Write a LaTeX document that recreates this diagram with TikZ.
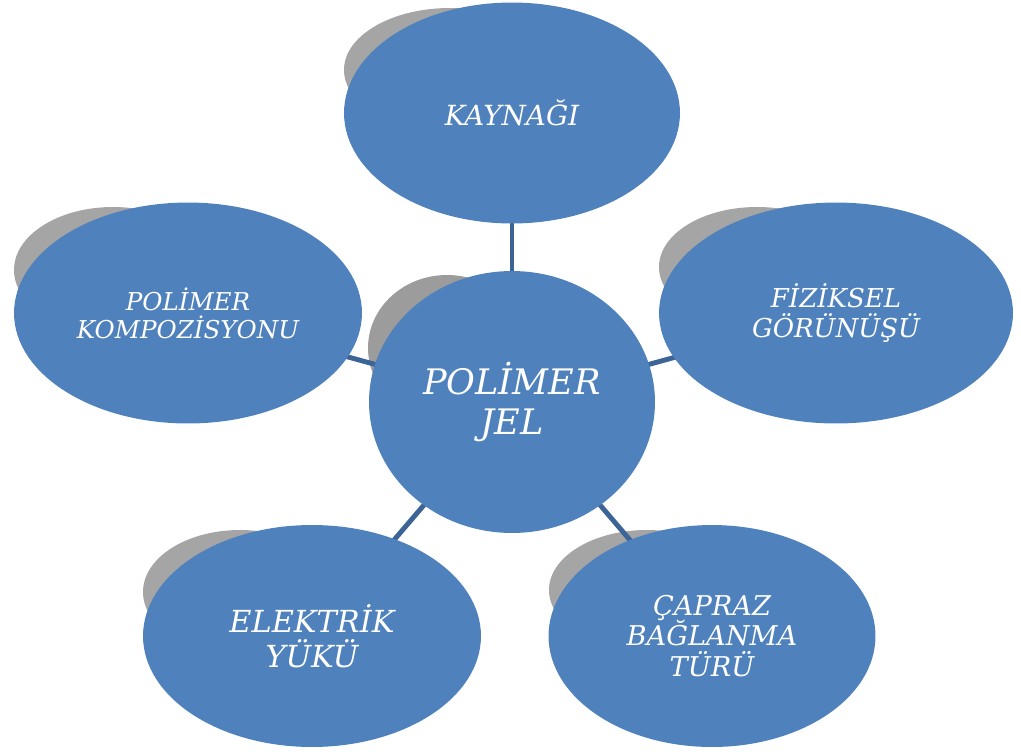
\documentclass[tikz,border=0pt]{standalone}
\usepackage{fontspec}
\setmainfont{DejaVu Serif}
\usepackage{tikz}
\usetikzlibrary{shapes.geometric, backgrounds}

\definecolor{bubble}{HTML}{4F81BD}
\definecolor{ghostgray}{HTML}{A5A5A5}
\definecolor{ghostdark}{HTML}{9C9C9C}
\definecolor{linkblue}{HTML}{3C6496}

\begin{document}
\begin{tikzpicture}[
  x=0.02cm, y=-0.02cm,
  bub/.style={ellipse, fill=bubble, inner sep=0pt, align=center, text=white},
  fs/.style 2 args={font=\itshape\fontsize{#1}{#2}\selectfont},
  ghost/.style={fill=ghostgray},
  link/.style={draw=linkblue, line width=2.8pt}
]
\useasboundingbox (0,0) rectangle (1021,751);

% Center
\node[bub, fs={20}{22.5}, minimum width=5.72cm, minimum height=5.24cm] (jel)
  at (512,402) {POLİMER\\JEL};

% Outer bubbles
\node[bub, fs={15.8}{18}, minimum width=6.72cm, minimum height=4.42cm] (kaynak)
  at (512,113) {KAYNAĞI};
\node[bub, fs={14}{16}, minimum width=6.96cm, minimum height=4.42cm] (kompoz)
  at (188,313) {POLİMER\\KOMPOZİSYONU};
\node[bub, fs={14.8}{17}, minimum width=7.08cm, minimum height=4.42cm] (fizik)
  at (836,313) {FİZİKSEL\\GÖRÜNÜŞÜ};
\node[bub, fs={17.3}{19.8}, minimum width=6.76cm, minimum height=4.44cm] (elektrik)
  at (312,636) {ELEKTRİK\\YÜKÜ};
\node[bub, fs={15.5}{17.6}, minimum width=6.54cm, minimum height=4.44cm] (capraz)
  at (712,636) {ÇAPRAZ\\BAĞLANMA\\TÜRÜ};

\begin{scope}[on background layer]
% Shadows behind the bubbles
\fill[ghost] (450,70) ellipse (106 and 62);
\fill[ghost] (113,270) ellipse (99 and 63);
\fill[ghost] (757,267) ellipse (98 and 60);
\fill[ghost] (240,592) ellipse (97 and 62);
\fill[ghost] (647,590) ellipse (98 and 60);
\fill[fill=ghostdark] (447,348) ellipse (79 and 73);

% Links (over the shadows, under the bubbles)
\draw[link] (jel.center) -- (kaynak.center);
\draw[link] (jel.center) -- (kompoz.center);
\draw[link] (jel.center) -- (fizik.center);
\draw[link] (jel.center) -- (elektrik.center);
\draw[link] (jel.center) -- (capraz.center);
\end{scope}

\end{tikzpicture}
\end{document}
